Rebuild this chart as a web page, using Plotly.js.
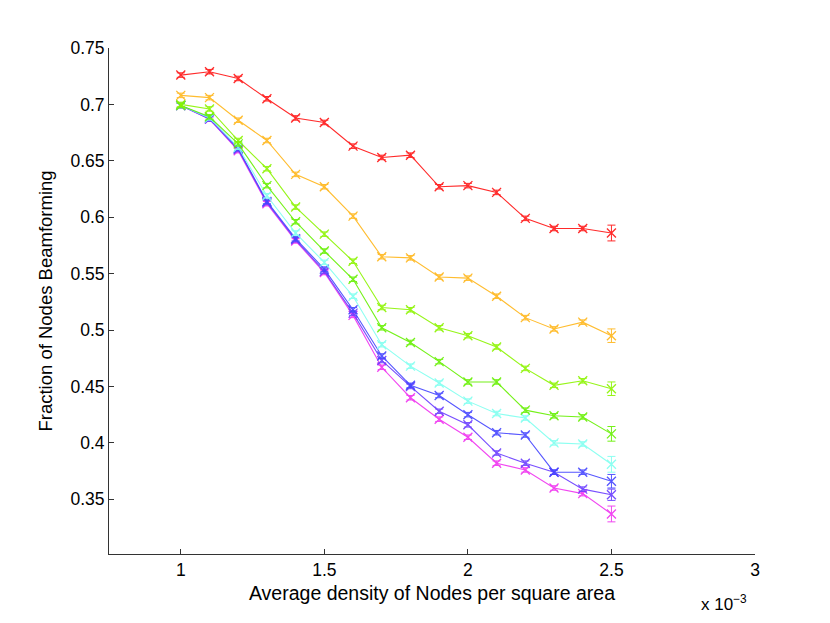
<!DOCTYPE html>
<html>
<head>
<meta charset="utf-8">
<script src="https://cdn.plot.ly/plotly-3.0.1.min.js"></script>
<style>
html,body{margin:0;padding:0;background:#fff;}
#chart{width:830px;height:623px;}
</style>
</head>
<body>
<div id="chart"></div>
<script>
// Average density of nodes per square area
var density = [0.0010,0.0011,0.0012,0.0013,0.0014,0.0015,0.0016,0.0017,0.0018,0.0019,0.0020,0.0021,0.0022,0.0023,0.0024,0.0025];

var seriesNames = ['s1','s2','s3','s4','s5','s6','s7','s8'];
var seriesColors = ['#ff1414','#ffb619','#8cf500','#66f000','#80fff0','#4444ff','#6a3cff','#f033f0'];

var red     = [0.726,0.729,0.723,0.705,0.688,0.684,0.663,0.653,0.655,0.627,0.628,0.622,0.599,0.590,0.590,0.586];
var orange  = [0.708,0.706,0.686,0.668,0.638,0.627,0.601,0.565,0.564,0.547,0.546,0.530,0.511,0.501,0.507,0.495];
var green1  = [0.700,0.696,0.668,0.643,0.609,0.585,0.561,0.520,0.518,0.502,0.495,0.485,0.466,0.451,0.455,0.448];
var green2  = [0.699,0.689,0.665,0.628,0.596,0.570,0.545,0.502,0.489,0.472,0.454,0.454,0.429,0.424,0.423,0.408];
var cyan    = [0.699,0.688,0.662,0.619,0.586,0.560,0.530,0.487,0.468,0.453,0.437,0.426,0.422,0.400,0.399,0.381];
var blue    = [0.699,0.688,0.661,0.614,0.581,0.554,0.518,0.477,0.451,0.442,0.425,0.409,0.407,0.374,0.374,0.366];
var purple  = [0.699,0.687,0.660,0.613,0.580,0.552,0.515,0.473,0.450,0.428,0.416,0.391,0.382,0.374,0.359,0.354];
var magenta = [0.699,0.687,0.659,0.612,0.579,0.551,0.513,0.467,0.440,0.421,0.405,0.382,0.376,0.360,0.355,0.337];

var redErr     = [0.002,0.002,0.002,0.002,0.002,0.002,0.002,0.002,0.002,0.002,0.002,0.002,0.002,0.002,0.002,0.007];
var orangeErr  = [0.002,0.002,0.002,0.002,0.002,0.002,0.002,0.002,0.002,0.002,0.002,0.002,0.002,0.002,0.002,0.006];
var green1Err  = [0.002,0.002,0.002,0.002,0.002,0.002,0.002,0.002,0.002,0.002,0.002,0.002,0.002,0.002,0.002,0.006];
var green2Err  = [0.002,0.002,0.002,0.002,0.002,0.002,0.002,0.002,0.002,0.002,0.002,0.002,0.002,0.002,0.002,0.0065];
var cyanErr    = [0.002,0.002,0.002,0.002,0.002,0.002,0.002,0.002,0.002,0.002,0.002,0.002,0.002,0.002,0.002,0.007];
var blueErr    = [0.002,0.002,0.002,0.002,0.002,0.002,0.002,0.002,0.002,0.002,0.002,0.002,0.002,0.002,0.002,0.006];
var purpleErr  = [0.002,0.002,0.002,0.002,0.002,0.002,0.002,0.002,0.002,0.002,0.002,0.002,0.002,0.002,0.002,0.005];
var magentaErr = [0.002,0.002,0.002,0.002,0.002,0.002,0.002,0.002,0.002,0.002,0.002,0.002,0.002,0.002,0.002,0.007];

var xTickVals = [0.0010,0.0015,0.0020,0.0025,0.0030];
var xTickText = ['1','1.5','2','2.5','3'];
var yTickVals = [0.35,0.40,0.45,0.50,0.55,0.60,0.65,0.70,0.75];
var yTickText = ['0.35','0.4','0.45','0.5','0.55','0.6','0.65','0.7','0.75'];

var allY = [red,orange,green1,green2,cyan,blue,purple,magenta];
var allErr = [redErr,orangeErr,green1Err,green2Err,cyanErr,blueErr,purpleErr,magentaErr];

var traces = [];
for (var i = allY.length - 1; i >= 0; i--) {
  traces.push({
    x: density,
    y: allY[i],
    name: seriesNames[i],
    type: 'scatter',
    mode: 'lines+markers',
    line: {color: seriesColors[i], width: 1.1},
    marker: {symbol: 'x-thin-open', size: 9, color: seriesColors[i], line: {color: seriesColors[i], width: 1.3}},
    error_y: {type: 'data', array: allErr[i], visible: true, color: seriesColors[i], thickness: 1, width: 4},
    opacity: 0.9
  });
}

var fam = 'Liberation Sans, Arial, Helvetica, sans-serif';
var tickFont = {family: fam, size: 17.5, color: '#000'};
var xTitleFont = {family: fam, size: 19.5, color: '#000'};
var yTitleFont = {family: fam, size: 18.5, color: '#000'};

var layout = {
  width: 830, height: 623,
  margin: {l: 109, r: 75, t: 48, b: 69},
  paper_bgcolor: '#fff', plot_bgcolor: '#fff',
  showlegend: false,
  font: tickFont,
  xaxis: {
    range: [0.00075, 0.0030],
    tickvals: xTickVals, ticktext: xTickText,
    ticks: 'inside', ticklen: 5, tickwidth: 1, tickcolor: '#333',
    showline: true, linecolor: '#333', linewidth: 1, mirror: false,
    showgrid: false, zeroline: false,
    tickfont: tickFont,
    title: {text: 'Average density of Nodes per square area', font: xTitleFont, standoff: 7}
  },
  yaxis: {
    range: [0.3015, 0.75],
    tickvals: yTickVals, ticktext: yTickText,
    ticks: 'inside', ticklen: 5, tickwidth: 1, tickcolor: '#333',
    showline: true, linecolor: '#333', linewidth: 1, mirror: false,
    showgrid: false, zeroline: false,
    tickfont: tickFont,
    title: {text: 'Fraction of Nodes Beamforming', font: yTitleFont, standoff: 12}
  },
  annotations: [{
    xref: 'paper', yref: 'paper', x: 0.99, y: -0.072,
    xanchor: 'right', yanchor: 'top', showarrow: false,
    text: 'x 10<sup>\u22123</sup>', font: {family: fam, size: 17, color: '#000'}
  }]
};

Plotly.newPlot('chart', traces, layout, {displayModeBar: false, staticPlot: true});
</script>
</body>
</html>
